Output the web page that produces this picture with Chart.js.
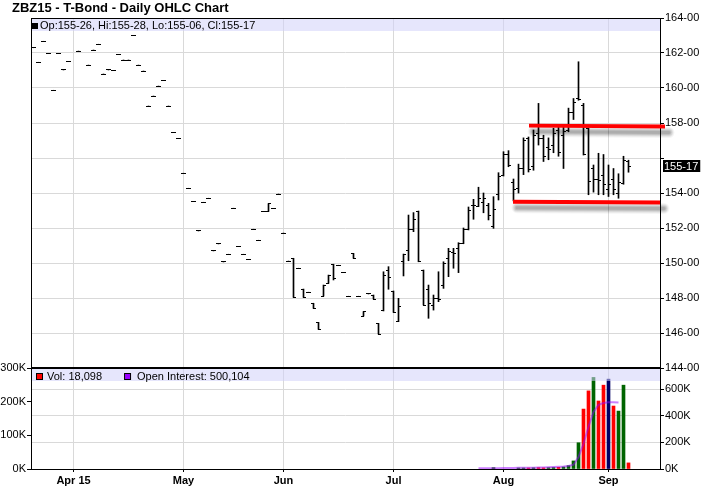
<!DOCTYPE html>
<html>
<head>
<meta charset="utf-8">
<title>ZBZ15 - T-Bond - Daily OHLC Chart</title>
<script src="https://cdn.jsdelivr.net/npm/chart.js@4.4.1/dist/chart.umd.min.js"></script>
<style>
  html, body { margin: 0; padding: 0; background: #fff; }
  #wrap { position: relative; width: 722px; height: 494px; overflow: hidden; }
  #priceChart { position: absolute; left: 0; top: 0; }
  #volChart { position: absolute; left: 0; top: 356px; }
</style>
</head>
<body>
<div id="wrap">
  <canvas id="priceChart" width="722" height="380"></canvas>
  <canvas id="volChart" width="722" height="138"></canvas>
</div>
<script>
// Chart texts and axis ticks
const chartTitle = "ZBZ15 - T-Bond - Daily OHLC Chart";
const monthTicks = [8, 30, 50, 72, 94, 115]; // trading-day index of each month start
const monthLabels = ["Apr 15", "May", "Jun", "Jul", "Aug", "Sep"];
const volTicks = [0, 100000, 200000, 300000];
const oiTicks = [0, 200000, 400000, 600000];

// Daily bars, one slot per trading day from Mar 20 to Sep 8 (null = no trade)
const opens = [
  162.30, 161.47, 162.67, 161.96, 159.87, 161.96, 161.03, 161.51, null, 162.11,
  null, 161.31, 162.17, 162.50, 160.80, 161.03, 160.99, 161.92, 161.60, 161.60,
  162.99, 161.31, 160.97, 158.97, 159.54, 160.11, 160.42, 158.97, 157.45, 157.12,
  155.13, 154.27, 153.52, 151.83, 153.47, 153.70, 150.69, 151.09, 150.06, 150.50,
  153.13, 150.95, 150.50, 150.21, 151.93, 151.30, 152.95, 152.95, 153.12, 153.94,
  151.71, 150.11, 150.27, 149.70, 148.51, 148.33, 147.70, 146.61, 148.11, 148.84,
  149.93, 149.87, 149.45, 148.10, 150.55, 148.10, 146.97, 148.23, 148.17, 146.55,
  147.26, 149.60, 148.40, 146.65, 150.07, 150.74, 151.89, 152.97, 149.60, 148.46,
  147.60, 148.00, 148.74, 150.27, 150.59, 150.84, 151.14, 151.90, 153.26, 153.22,
  153.45, 153.30, 152.11, 153.90, 155.00, 156.20, 154.60, 154.27, 155.40, 157.10,
  155.50, 157.41, 157.10, 156.60, 156.70, 157.60, 157.30, 157.60, 158.60, 159.40,
  159.00, 157.70, 155.40, 154.80, 155.00, 154.20, 154.80, 154.00, 154.55, 155.8125
];
const highs = [
  162.30, 161.47, 162.67, 161.96, 159.87, 161.96, 161.03, 161.51, null, 162.11,
  null, 161.31, 162.17, 162.50, 160.80, 161.03, 160.99, 161.92, 161.60, 161.60,
  162.99, 161.31, 160.97, 158.97, 159.54, 160.11, 160.42, 158.97, 157.45, 157.12,
  155.13, 154.27, 153.52, 151.83, 153.47, 153.70, 150.69, 151.09, 150.06, 150.50,
  153.13, 150.95, 150.50, 150.21, 151.93, 151.30, 152.95, 153.39, 153.12, 153.94,
  151.71, 150.11, 150.27, 149.70, 148.51, 148.33, 147.70, 146.61, 148.74, 149.31,
  149.93, 149.87, 149.45, 148.10, 150.55, 148.10, 147.22, 148.23, 148.17, 146.55,
  149.50, 149.79, 148.40, 147.98, 150.51, 152.74, 152.88, 152.97, 149.60, 148.74,
  148.17, 149.50, 150.07, 150.84, 150.84, 151.16, 152.00, 153.20, 153.64, 154.33,
  154.00, 153.41, 153.79, 155.16, 156.36, 156.42, 154.80, 155.65, 157.15, 157.20,
  157.60, 159.12, 157.30, 157.15, 157.70, 157.75, 157.80, 158.85, 159.40, 161.50,
  159.12, 157.70, 155.60, 156.27, 156.20, 155.60, 155.40, 155.10, 156.10, 155.875
];
const lows = [
  162.30, 161.47, 162.67, 161.96, 159.87, 161.96, 161.03, 161.51, null, 162.11,
  null, 161.31, 162.17, 162.50, 160.80, 161.03, 160.99, 161.92, 161.60, 161.60,
  162.99, 161.31, 160.97, 158.97, 159.54, 160.11, 160.42, 158.97, 157.45, 157.12,
  155.13, 154.27, 153.52, 151.83, 153.47, 153.70, 150.69, 151.09, 150.06, 150.50,
  153.13, 150.95, 150.50, 150.21, 151.93, 151.30, 152.95, 152.95, 153.12, 153.94,
  151.71, 150.11, 148.04, 149.70, 148.04, 148.33, 147.41, 146.21, 148.11, 148.84,
  149.03, 149.87, 149.45, 148.10, 150.27, 148.10, 146.97, 148.23, 147.94, 145.94,
  147.26, 148.50, 147.18, 146.65, 149.26, 150.13, 151.79, 150.07, 147.60, 146.84,
  147.31, 147.79, 148.55, 149.22, 149.70, 149.45, 151.10, 151.89, 152.50, 153.22,
  152.87, 152.46, 151.98, 153.60, 154.97, 155.50, 153.55, 154.00, 155.05, 155.20,
  155.30, 156.74, 155.80, 155.90, 156.30, 156.10, 155.40, 157.50, 158.20, 159.30,
  156.17, 153.90, 154.05, 153.90, 153.90, 153.80, 153.90, 153.70, 154.50, 155.1875
];
const closes = [
  162.30, 161.47, 162.67, 161.96, 159.87, 161.96, 161.03, 161.51, null, 162.11,
  null, 161.31, 162.17, 162.50, 160.80, 161.03, 160.99, 161.92, 161.60, 161.60,
  162.99, 161.31, 160.97, 158.97, 159.54, 160.11, 160.42, 158.97, 157.45, 157.12,
  155.13, 154.27, 153.52, 151.83, 153.47, 153.70, 150.69, 151.09, 150.06, 150.50,
  153.13, 150.95, 150.50, 150.21, 151.93, 151.30, 152.95, 153.39, 153.12, 153.94,
  151.71, 150.11, 148.04, 149.70, 148.04, 148.33, 147.41, 146.21, 148.74, 149.31,
  149.10, 149.87, 149.45, 148.10, 150.27, 148.10, 147.22, 148.23, 147.94, 145.94,
  149.26, 149.18, 147.18, 147.50, 150.49, 151.89, 152.51, 150.07, 147.60, 147.70,
  148.00, 147.90, 149.98, 150.65, 150.55, 151.13, 151.90, 153.00, 153.31, 153.70,
  153.70, 152.70, 153.03, 154.97, 156.20, 155.60, 154.20, 155.41, 157.00, 155.35,
  157.30, 157.12, 156.10, 156.50, 157.40, 156.30, 157.50, 158.60, 159.20, 159.35,
  156.20, 154.65, 154.80, 154.70, 154.50, 154.50, 154.20, 154.60, 155.85, 155.53125
];

const volumes = [
  null, null, null, null, null, null, null, null, null, null,
  null, null, null, null, null, null, null, null, null, null,
  null, null, null, null, null, null, null, null, null, null,
  null, null, null, null, null, null, null, null, null, null,
  null, null, null, null, null, null, null, null, null, null,
  null, null, null, null, null, null, null, null, null, null,
  null, null, null, null, null, null, null, null, null, null,
  null, null, null, null, null, null, null, null, null, null,
  null, null, null, null, null, null, null, null, null, null,
  null, null, 4000, null, null, null, null, 3000, 3000, 3000,
  3500, 4000, 3500, 4000, 4500, 5000, 6000, 10000, 24000, 78000,
  178000, 232000, 272000, 202000, 249000, 267000, 187000, 172000, 249000, 18098
];
const openInterest = [
  null, null, null, null, null, null, null, null, null, null,
  null, null, null, null, null, null, null, null, null, null,
  null, null, null, null, null, null, null, null, null, null,
  null, null, null, null, null, null, null, null, null, null,
  null, null, null, null, null, null, null, null, null, null,
  null, null, null, null, null, null, null, null, null, null,
  null, null, null, null, null, null, null, null, null, null,
  null, null, null, null, null, null, null, null, null, null,
  null, null, null, null, null, null, null, null, null, 5000,
  5200, 5500, 6000, 6500, 7000, 7500, 8000, 8500, 9000, 9500,
  10000, 11000, 12000, 13000, 14500, 16000, 18000, 22000, 32000, 90000,
  190000, 318000, 430000, 482000, 497000, 502000, 503000, 500104, null, null
];

// Hand-drawn resistance / support lines: [index, price] at each end
const resistanceLine = [[99.1, 157.85], [126.3, 157.80]];
const supportLine = [[95.9, 153.50], [125.3, 153.46]];

const gridColor = "#d9d9d9";
const bandColor = "rgba(210, 210, 250, 0.55)";
const upColor = "#006400";
const downColor = "#ff0000";
const flatColor = "#000066";
const oiColor = "#9900ff";

Chart.defaults.font.family = '"Liberation Sans", Arial, sans-serif';
Chart.defaults.font.size = 11;
Chart.defaults.color = "#000";

// 32nds notation used for bond prices, e.g. 155.53125 -> "155-17"
function priceLabel(v) {
  let whole = Math.floor(v + 1e-9);
  let t = Math.round((v - whole) * 32);
  if (t === 32) { whole += 1; t = 0; }
  return whole + "-" + String(t).padStart(2, "0");
}

function lastValue(arr) {
  for (let i = arr.length - 1; i >= 0; i--) if (arr[i] != null) return arr[i];
  return null;
}

// small canvases used as point styles for the open (left) and close (right) ticks
function tickImage(side) {
  const c = document.createElement("canvas");
  c.width = 5;
  c.height = 1;
  const g = c.getContext("2d");
  g.fillStyle = "#000";
  g.fillRect(side === "open" ? 0 : 2, 0, 3, 1);
  return c;
}

const lastIdx = closes.length - 1;
const lastClose = closes[lastIdx];

const rangeData = [], openData = [], closeData = [];
closes.forEach((c, i) => {
  if (c == null) return;
  rangeData.push({ x: i, y: [lows[i], highs[i]] });
  openData.push({ x: i, y: opens[i] });
  closeData.push({ x: i, y: c });
});

const volData = [];
volumes.forEach((v, i) => { if (v != null) volData.push({ x: i, y: v }); });
const oiData = [];
openInterest.forEach((v, i) => { if (v != null) oiData.push({ x: i, y: v }); });

function volColor(i) {
  if (closes[i] > closes[i - 1]) return upColor;
  if (closes[i] < closes[i - 1]) return downColor;
  return flatColor;
}

const xRange = { min: -0.5, max: 125.3 };

// draws title, frame, legend band and last price box on the price panel
const pricePanel = {
  id: "pricePanel",
  beforeDraw(chart) { chart.ctx.imageSmoothingEnabled = false; },
  beforeDatasetDraw(chart, args) {
    // soft grey drop shadow under the two red trend lines
    if (args.index > 1) return;
    const pts = args.meta.data;
    const ctx = chart.ctx;
    ctx.save();
    ctx.lineCap = "round";
    [[11, 0.04], [9, 0.06], [7, 0.08], [5, 0.1], [3, 0.1]].forEach(([w, a]) => {
      ctx.strokeStyle = "rgba(0, 0, 0, " + a + ")";
      ctx.lineWidth = w;
      ctx.beginPath();
      ctx.moveTo(pts[0].x + 4, pts[0].y + 6);
      ctx.lineTo(pts[1].x + 4, pts[1].y + 6);
      ctx.stroke();
    });
    ctx.restore();
  },
  afterDraw(chart) {
    const ctx = chart.ctx;
    const a = chart.chartArea;
    ctx.save();
    ctx.fillStyle = "#000";
    ctx.font = 'bold 13px "Liberation Sans", Arial, sans-serif';
    ctx.textBaseline = "alphabetic";
    ctx.fillText(chartTitle, 12, 12);

    // frame (right side is the axis border)
    ctx.fillRect(a.left, a.top, 1, a.bottom - a.top);
    ctx.fillRect(a.left, a.top, a.right - a.left, 1);

    ctx.fillStyle = bandColor;
    ctx.fillRect(a.left + 1, a.top + 1, a.right - a.left - 1, 12);
    ctx.fillStyle = "#000";
    ctx.fillRect(a.left + 1, a.top + 5, 6, 6);
    ctx.font = '11px "Liberation Sans", Arial, sans-serif';
    ctx.textBaseline = "middle";
    const txt = "Op:" + priceLabel(opens[lastIdx]) + ", Hi:" + priceLabel(highs[lastIdx]) +
      ", Lo:" + priceLabel(lows[lastIdx]) + ", Cl:" + priceLabel(lastClose);
    ctx.fillText(txt, a.left + 9, a.top + 7.5);

    // last price box on the axis
    const ys = chart.scales.y;
    const py = Math.round(ys.getPixelForValue(lastClose));
    const label = priceLabel(lastClose);
    const w = ctx.measureText(label).width;
    ctx.fillStyle = "#000";
    ctx.fillRect(ys.left + 3, py - 6, w + 3, 12);
    ctx.fillStyle = "#fff";
    ctx.fillText(label, ys.left + 4, py + 0.5);
    ctx.restore();
  }
};

new Chart(document.getElementById("priceChart"), {
  type: "line",
  data: {
    datasets: [
      {
        type: "line",
        data: resistanceLine.map(p => ({ x: p[0], y: p[1] })),
        borderColor: "#ff0000",
        borderWidth: 4,
        pointRadius: 0,
        clip: false
      },
      {
        type: "line",
        data: supportLine.map(p => ({ x: p[0], y: p[1] })),
        borderColor: "#ff0000",
        borderWidth: 4,
        pointRadius: 0,
        clip: false
      },
      {
        type: "line",
        data: openData,
        showLine: false,
        pointStyle: tickImage("open"),
        pointRadius: 2
      },
      {
        type: "line",
        data: closeData,
        showLine: false,
        pointStyle: tickImage("close"),
        pointRadius: 2
      },
      {
        type: "bar",
        data: rangeData,
        backgroundColor: "#000",
        borderWidth: 0,
        barThickness: 1,
        grouped: false
      }
    ]
  },
  options: {
    responsive: false,
    animation: false,
    events: [],
    layout: { padding: { left: 31, top: 18, right: 0, bottom: 12 } },
    plugins: { legend: { display: false }, tooltip: { enabled: false } },
    scales: {
      x: {
        type: "linear",
        min: xRange.min,
        max: xRange.max,
        offset: false,
        afterBuildTicks: s => { s.ticks = monthTicks.map(v => ({ value: v })); },
        afterFit: s => { s.height = 0; },
        ticks: { display: false },
        grid: { color: gridColor, drawTicks: false, offset: false },
        border: { display: false }
      },
      y: {
        position: "right",
        min: 144,
        max: 164,
        afterFit: s => { s.width = 62; },
        ticks: {
          stepSize: 2,
          padding: 1,
          callback: v => (Math.abs(v - lastClose) < 0.9 ? "" : priceLabel(v))
        },
        grid: { color: gridColor, tickColor: "#000", tickLength: 4 },
        border: { color: "#000" }
      }
    }
  },
  plugins: [pricePanel]
});

// divider, legend band and texts of the volume panel
const volPanel = {
  id: "volPanel",
  afterDraw(chart) {
    const ctx = chart.ctx;
    const a = chart.chartArea;
    ctx.save();
    ctx.fillStyle = bandColor;
    ctx.fillRect(a.left + 1, a.top + 1, a.right - a.left - 1, 12);
    ctx.fillStyle = "#000";
    ctx.fillRect(a.left, a.top - 1, a.right - a.left + 1, 2);

    ctx.font = '11px "Liberation Sans", Arial, sans-serif';
    ctx.textBaseline = "middle";
    const ty = a.top + 8.5;
    const volTxt = "Vol: " + lastValue(volumes).toLocaleString("en-US");
    ctx.fillStyle = "#000";
    ctx.fillRect(a.left + 5, a.top + 5, 7, 7);
    ctx.fillStyle = downColor;
    ctx.fillRect(a.left + 6, a.top + 6, 5, 5);
    ctx.fillStyle = "#000";
    ctx.fillText(volTxt, a.left + 16, ty);
    const x2 = a.left + 16 + ctx.measureText(volTxt).width + 22;
    ctx.fillRect(x2, a.top + 5, 7, 7);
    ctx.fillStyle = oiColor;
    ctx.fillRect(x2 + 1, a.top + 6, 5, 5);
    ctx.fillStyle = "#000";
    ctx.fillText("Open Interest: " + lastValue(openInterest).toLocaleString("en-US"), x2 + 13, ty);
    ctx.restore();
  }
};

new Chart(document.getElementById("volChart"), {
  type: "line",
  data: {
    datasets: [
      {
        type: "line",
        data: oiData,
        yAxisID: "oi",
        borderColor: "rgba(153, 0, 255, 0.5)",
        borderWidth: 2,
        pointRadius: 0,
        tension: 0
      },
      {
        type: "bar",
        data: volData,
        yAxisID: "vol",
        backgroundColor: ctx => volColor(ctx.raw ? ctx.raw.x : 0),
        borderWidth: 0,
        barThickness: 3,
        grouped: false
      }
    ]
  },
  options: {
    responsive: false,
    animation: false,
    events: [],
    layout: { padding: { left: 0, top: 12, right: 0, bottom: 0 } },
    plugins: { legend: { display: false }, tooltip: { enabled: false } },
    scales: {
      x: {
        type: "linear",
        min: xRange.min,
        max: xRange.max,
        offset: false,
        afterBuildTicks: s => { s.ticks = monthTicks.map(v => ({ value: v })); },
        afterFit: s => { s.height = 25; },
        ticks: {
          padding: 2,
          maxRotation: 0,
          autoSkip: false,
          font: { weight: "bold", size: 11 },
          callback: v => monthLabels[monthTicks.indexOf(v)]
        },
        grid: { color: gridColor, tickColor: "#000", tickLength: 3, offset: false },
        border: { color: "#000" }
      },
      vol: {
        position: "left",
        min: 0,
        max: 300000,
        afterBuildTicks: s => { s.ticks = volTicks.map(v => ({ value: v })); },
        afterFit: s => { s.width = 31; },
        ticks: { padding: 1, callback: v => v / 1000 + "K" },
        grid: { drawOnChartArea: false, tickColor: "#000", tickLength: 4 },
        border: { color: "#000" }
      },
      oi: {
        position: "right",
        min: 0,
        max: 760000,
        afterBuildTicks: s => { s.ticks = oiTicks.map(v => ({ value: v })); },
        afterFit: s => { s.width = 62; },
        ticks: { padding: 1, callback: v => v / 1000 + "K" },
        grid: { color: gridColor, tickColor: "#000", tickLength: 4 },
        border: { color: "#000" }
      }
    }
  },
  plugins: [volPanel]
});
</script>
</body>
</html>
